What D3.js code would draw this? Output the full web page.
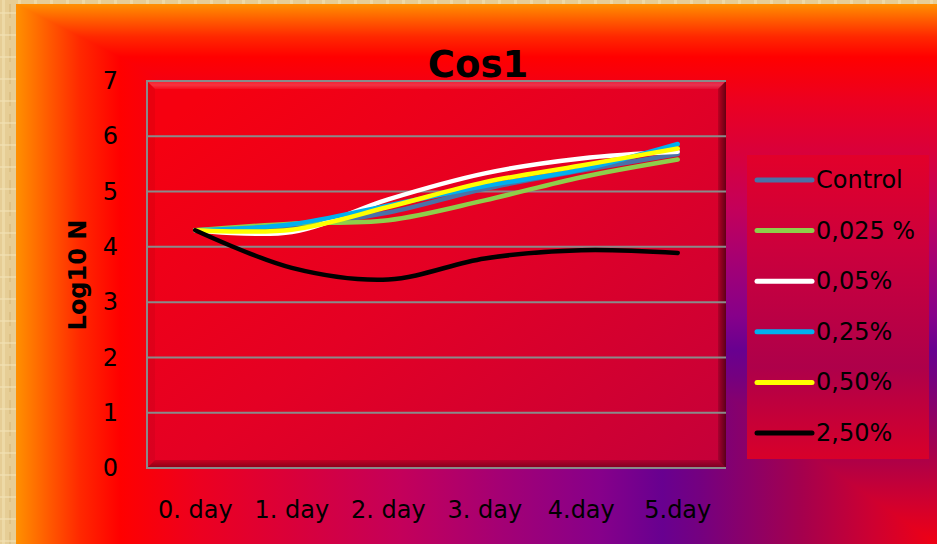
<!DOCTYPE html>
<html>
<head>
<meta charset="utf-8">
<script src="https://cdn.jsdelivr.net/npm/d3@7"></script>
<style>
  html, body { margin: 0; padding: 0; background: #e5cc92; }
  svg { display: block; }
  text { font-family: "Comic Sans MS", "DejaVu Sans", sans-serif; fill: #000; }
</style>
</head>
<body>
<svg id="chart" width="937" height="544"></svg>
<script>
// Categories and series (log10 N per day)
const days = ["0. day", "1. day", "2. day", "3. day", "4.day", "5.day"];
const seriesNames = ["Control", "0,025 %", "0,05%", "0,25%", "0,50%", "2,50%"];
const seriesColors = ["#4a72a6", "#8ecf4a", "#ffffff", "#00b0ef", "#ffff00", "#000000"];
const control = [4.30, 4.38, 4.62, 5.05, 5.38, 5.68];
const conc0025 = [4.30, 4.42, 4.48, 4.84, 5.26, 5.58];
const conc005 = [4.30, 4.27, 4.86, 5.33, 5.60, 5.72];
const conc025 = [4.30, 4.41, 4.75, 5.10, 5.40, 5.86];
const conc050 = [4.30, 4.31, 4.72, 5.17, 5.47, 5.78];
const conc250 = [4.30, 3.62, 3.41, 3.79, 3.94, 3.89];
const yTicks = [0, 1, 2, 3, 4, 5, 6, 7];
const titleText = "Cos1";
const yTitle = "Log10 N";

const seriesValues = [control, conc0025, conc005, conc025, conc050, conc250];

const svg = d3.select("#chart");
const defs = svg.append("defs");

// ---------- background: parchment frame + corner-path gradient panel ----------
const pat = defs.append("pattern").attr("id", "parch").attr("patternUnits", "userSpaceOnUse")
  .attr("width", 16).attr("height", 22);
pat.append("rect").attr("width", 16).attr("height", 22).attr("fill", "#e6cd95");
pat.append("rect").attr("x", 2).attr("y", 0).attr("width", 3).attr("height", 22).attr("fill", "#efdcaa").attr("opacity", 0.8);
pat.append("rect").attr("x", 9).attr("y", 4).attr("width", 2).attr("height", 14).attr("fill", "#d9bd80").attr("opacity", 0.7);
pat.append("rect").attr("x", 0).attr("y", 12).attr("width", 16).attr("height", 2).attr("fill", "#f1e1b4").attr("opacity", 0.6);
svg.append("rect").attr("width", 937).attr("height", 544).attr("fill", "url(#parch)");

const panel = { x0: 16, y0: 4, x1: 937, y1: 544 };
// colour as a function of phase p (0 at bottom-right corner, 1 at far edges)
const pStops = [
  [0.000, "#f00014"], [0.073, "#cc0032"], [0.149, "#a4004e"], [0.259, "#740080"],
  [0.300, "#680090"], [0.366, "#86008a"], [0.473, "#a40074"], [0.580, "#c4005a"],
  [0.687, "#d8003c"], [0.794, "#ec0020"], [0.880, "#ff0000"], [0.926, "#ff2800"],
  [0.961, "#ff5800"], [1.000, "#ff9000"]
];
// distance knots (px from the corner) for each phase knot, horizontally and vertically
const pKnots = [0, 0.30, 0.88, 1.0];
const hKnots = [0, 275, 817, 921];
const vKnots = [0, 194, 487, 540];
const hDist = d3.scaleLinear().domain(pKnots).range(hKnots);
const vDist = d3.scaleLinear().domain(pKnots).range(vKnots);

const gH = defs.append("linearGradient").attr("id", "bgH").attr("gradientUnits", "userSpaceOnUse")
  .attr("x1", panel.x1).attr("y1", 0).attr("x2", panel.x0).attr("y2", 0);
gH.selectAll("stop").data(pStops).join("stop")
  .attr("offset", d => hDist(d[0]) / 921).attr("stop-color", d => d[1]);
const gV = defs.append("linearGradient").attr("id", "bgV").attr("gradientUnits", "userSpaceOnUse")
  .attr("x1", 0).attr("y1", panel.y1).attr("x2", 0).attr("y2", panel.y0);
gV.selectAll("stop").data(pStops).join("stop")
  .attr("offset", d => vDist(d[0]) / 540).attr("stop-color", d => d[1]);

svg.append("rect").attr("x", panel.x0).attr("y", panel.y0)
  .attr("width", panel.x1 - panel.x0).attr("height", panel.y1 - panel.y0).attr("fill", "url(#bgH)");
// upper-right part of the panel, where the vertical gradient dominates
const seam = pKnots.map((p, i) => [panel.x1 - hKnots[i], panel.y1 - vKnots[i]]);
const upperPoly = [[panel.x1, panel.y1], [panel.x1, panel.y0], [panel.x0, panel.y0]]
  .concat(seam.slice(1, 3).reverse());
svg.append("polygon").attr("points", upperPoly.map(p => p.join(",")).join(" "))
  .attr("fill", "url(#bgV)");

// ---------- plot area ----------
const plot = { left: 147, top: 81, right: 726, bottom: 468 };
const x = d3.scaleBand().domain(days).range([plot.left, plot.right]);
const y = d3.scaleLinear().domain([0, 7]).range([plot.bottom, plot.top]);

const gPlot = defs.append("linearGradient").attr("id", "plotFill")
  .attr("x1", 0).attr("y1", 0.15).attr("x2", 1).attr("y2", 1);
gPlot.append("stop").attr("offset", 0).attr("stop-color", "#f60010");
gPlot.append("stop").attr("offset", 0.45).attr("stop-color", "#e40024");
gPlot.append("stop").attr("offset", 1).attr("stop-color", "#c4003a");
svg.append("rect").attr("x", plot.left).attr("y", plot.top)
  .attr("width", plot.right - plot.left).attr("height", plot.bottom - plot.top)
  .attr("fill", "url(#plotFill)");

// bevel edges
const b = 8;
const gRight = defs.append("linearGradient").attr("id", "bevR").attr("x1", 0).attr("x2", 1).attr("y1", 0).attr("y2", 0);
gRight.append("stop").attr("offset", 0).attr("stop-color", "#000").attr("stop-opacity", 0.15);
gRight.append("stop").attr("offset", 1).attr("stop-color", "#000").attr("stop-opacity", 0.55);
const gBot = defs.append("linearGradient").attr("id", "bevB").attr("x1", 0).attr("x2", 0).attr("y1", 0).attr("y2", 1);
gBot.append("stop").attr("offset", 0).attr("stop-color", "#000").attr("stop-opacity", 0.12);
gBot.append("stop").attr("offset", 1).attr("stop-color", "#000").attr("stop-opacity", 0.4);
const gTop = defs.append("linearGradient").attr("id", "bevT").attr("x1", 0).attr("x2", 0).attr("y1", 0).attr("y2", 1);
gTop.append("stop").attr("offset", 0).attr("stop-color", "#fff").attr("stop-opacity", 0.12);
gTop.append("stop").attr("offset", 0.5).attr("stop-color", "#fff").attr("stop-opacity", 0.2);
gTop.append("stop").attr("offset", 1).attr("stop-color", "#fff").attr("stop-opacity", 0.05);
const L = plot.left, T = plot.top, R = plot.right, B = plot.bottom;
const poly = pts => pts.map(p => p.join(",")).join(" ");
svg.append("polygon").attr("points", poly([[L, T], [R, T], [R - b, T + b], [L + b, T + b]])).attr("fill", "url(#bevT)");
svg.append("polygon").attr("points", poly([[L, T], [L + b, T + b], [L + b, B - b], [L, B]])).attr("fill", "#000").attr("opacity", 0.05);
svg.append("polygon").attr("points", poly([[L, B], [L + b, B - b], [R - b, B - b], [R, B]])).attr("fill", "url(#bevB)");
svg.append("polygon").attr("points", poly([[R, T], [R, B], [R - b, B - b], [R - b, T + b]])).attr("fill", "url(#bevR)");

// gridlines
svg.append("g").selectAll("line").data(yTicks.filter(t => t > 0 && t < 7)).join("line")
  .attr("x1", plot.left).attr("x2", plot.right)
  .attr("y1", d => y(d)).attr("y2", d => y(d))
  .attr("stroke", "#8a8a8a").attr("stroke-width", 2);

// plot frame (left, top, bottom)
svg.append("path")
  .attr("d", `M${R},${T}H${L}V${B}H${R}`)
  .attr("fill", "none").attr("stroke", "#8a8a8a").attr("stroke-width", 2);

// ---------- axes ----------
const yAxis = svg.append("g").attr("transform", `translate(${plot.left},0)`)
  .call(d3.axisLeft(y).tickValues(yTicks).tickSize(0).tickPadding(29).tickFormat(d3.format("d")));
yAxis.select(".domain").remove();
yAxis.selectAll("text").attr("font-size", 24).attr("font-family", "'Comic Sans MS', 'DejaVu Sans', sans-serif").attr("fill", "#000");

const xAxis = svg.append("g").attr("transform", `translate(0,${plot.bottom})`)
  .call(d3.axisBottom(x).tickSize(0));
xAxis.select(".domain").remove();
xAxis.selectAll("text").attr("font-size", 24).attr("font-family", "'Comic Sans MS', 'DejaVu Sans', sans-serif")
  .attr("fill", "#000").attr("dy", null).attr("y", 50);

// ---------- series ----------
const line = d3.line()
  .x((d, i) => x(days[i]) + x.bandwidth() / 2)
  .y(d => y(d))
  .curve(d3.curveCatmullRom.alpha(0.5));
svg.append("g").selectAll("path").data(seriesValues).join("path")
  .attr("d", d => line(d))
  .attr("fill", "none")
  .attr("stroke", (d, i) => seriesColors[i])
  .attr("stroke-width", 4.5)
  .attr("stroke-linecap", "round")
  .attr("stroke-linejoin", "round");

// ---------- titles ----------
svg.append("text").attr("x", 478).attr("y", 77).attr("text-anchor", "middle")
  .attr("font-size", 37).attr("font-weight", "bold").text(titleText);
svg.append("text").attr("transform", "translate(86,275) rotate(-90)").attr("text-anchor", "middle")
  .attr("font-size", 24).attr("font-weight", "bold").text(yTitle);

// ---------- legend ----------
const gLeg = defs.append("linearGradient").attr("id", "legFill").attr("x1", 0).attr("x2", 0).attr("y1", 0).attr("y2", 1);
[[0, "#e2002a"], [0.3, "#cc003c"], [0.7, "#ae004a"], [1, "#d8002a"]].forEach(s =>
  gLeg.append("stop").attr("offset", s[0]).attr("stop-color", s[1]));
const legend = svg.append("g");
legend.append("rect").attr("x", 747).attr("y", 155).attr("width", 182).attr("height", 304).attr("fill", "url(#legFill)");
const items = legend.selectAll("g.item").data(seriesNames).join("g").attr("class", "item")
  .attr("transform", (d, i) => `translate(0,${180 + i * 50.6})`);
items.append("line").attr("x1", 757).attr("x2", 812).attr("y1", 0).attr("y2", 0)
  .attr("stroke", (d, i) => seriesColors[i]).attr("stroke-width", 5).attr("stroke-linecap", "round");
items.append("text").attr("x", 816).attr("dy", "0.33em").attr("font-size", 24).text(d => d);
</script>
</body>
</html>
